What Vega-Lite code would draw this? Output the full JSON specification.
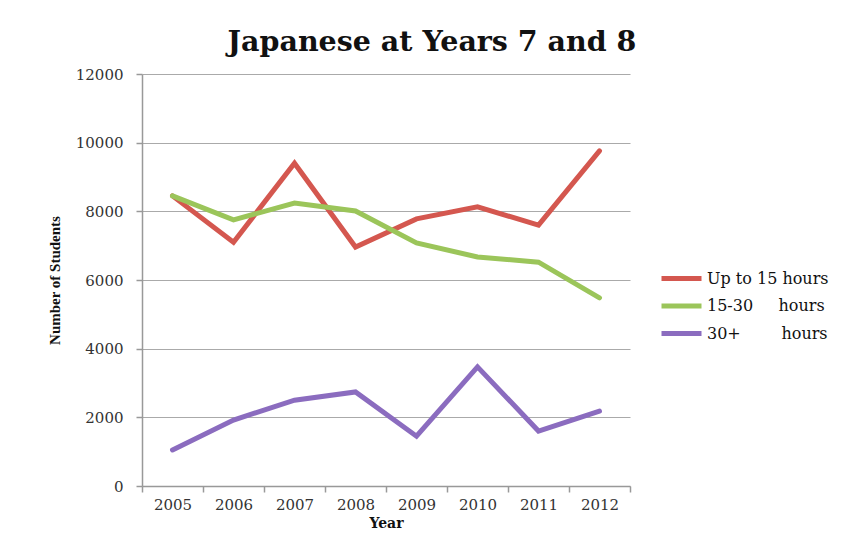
{
  "$schema": "https://vega.github.io/schema/vega-lite/v6.json",
  "autosize": {"type": "none"},
  "width": 488,
  "height": 412,
  "padding": {"left": 142, "top": 74, "right": 219, "bottom": 58},
  "background": "white",
  "title": {
    "text": "Japanese at Years 7 and 8",
    "font": "DejaVu Serif",
    "fontSize": 28.5,
    "fontWeight": "bold",
    "color": "#111111",
    "anchor": "middle",
    "dx": 46,
    "offset": 11
  },
  "data": {
    "values": [
      {"year": "2005", "series": "Up to 15 hours", "students": 8450},
      {"year": "2006", "series": "Up to 15 hours", "students": 7100},
      {"year": "2007", "series": "Up to 15 hours", "students": 9400},
      {"year": "2008", "series": "Up to 15 hours", "students": 6960},
      {"year": "2009", "series": "Up to 15 hours", "students": 7780},
      {"year": "2010", "series": "Up to 15 hours", "students": 8130},
      {"year": "2011", "series": "Up to 15 hours", "students": 7600},
      {"year": "2012", "series": "Up to 15 hours", "students": 9760},
      {"year": "2005", "series": "15-30 hours", "students": 8450},
      {"year": "2006", "series": "15-30 hours", "students": 7750},
      {"year": "2007", "series": "15-30 hours", "students": 8240},
      {"year": "2008", "series": "15-30 hours", "students": 8010},
      {"year": "2009", "series": "15-30 hours", "students": 7080},
      {"year": "2010", "series": "15-30 hours", "students": 6670},
      {"year": "2011", "series": "15-30 hours", "students": 6520},
      {"year": "2012", "series": "15-30 hours", "students": 5480},
      {"year": "2005", "series": "30+ hours", "students": 1050},
      {"year": "2006", "series": "30+ hours", "students": 1920},
      {"year": "2007", "series": "30+ hours", "students": 2500},
      {"year": "2008", "series": "30+ hours", "students": 2740},
      {"year": "2009", "series": "30+ hours", "students": 1450},
      {"year": "2010", "series": "30+ hours", "students": 3470},
      {"year": "2011", "series": "30+ hours", "students": 1600},
      {"year": "2012", "series": "30+ hours", "students": 2180}
    ]
  },
  "mark": {"type": "line", "strokeWidth": 5, "strokeJoin": "miter", "strokeCap": "round"},
  "encoding": {
    "x": {
      "field": "year",
      "type": "ordinal",
      "scale": {"paddingInner": 0, "paddingOuter": 0},
      "axis": {
        "title": "Year",
        "labelAngle": 0,
        "tickBand": "extent",
        "tickSize": 6,
        "labelPadding": 5,
        "titlePadding": 4,
        "titleFont": "DejaVu Serif",
        "titleFontSize": 14,
        "grid": false
      }
    },
    "y": {
      "field": "students",
      "type": "quantitative",
      "scale": {"domain": [0, 12000], "nice": false},
      "axis": {
        "title": "Number of Students",
        "values": [0, 2000, 4000, 6000, 8000, 10000, 12000],
        "format": "d",
        "tickSize": 6,
        "labelPadding": 13,
        "titlePadding": 13,
        "titleFont": "Liberation Serif",
        "titleFontSize": 15,
        "grid": true
      }
    },
    "color": {
      "field": "series",
      "type": "nominal",
      "scale": {
        "domain": ["Up to 15 hours", "15-30 hours", "30+ hours"],
        "range": ["#d4574f", "#9bc55a", "#8b6cbf"]
      },
      "legend": {
        "title": null,
        "orient": "none",
        "legendX": 527,
        "legendY": 192,
        "symbolType": "M-2,0H2",
        "symbolSize": 400,
        "symbolStrokeWidth": 5,
        "symbolFillColor": "transparent",
        "rowPadding": 4.5,
        "labelOffset": 13,
        "labelFont": "DejaVu Serif",
        "labelFontSize": 16,
        "labelColor": "#111111",
        "labelExpr": "datum.label == '15-30 hours' ? '\u00a015-30\u00a0\u00a0\u00a0\u00a0\u00a0hours' : datum.label == '30+ hours' ? '\u00a0\u00a030+\u00a0\u00a0\u00a0\u00a0\u00a0\u00a0\u00a0\u00a0hours' : datum.label"
      }
    }
  },
  "config": {
    "view": {"stroke": null},
    "axis": {
      "domainColor": "#999999",
      "domainWidth": 1.5,
      "tickColor": "#999999",
      "tickWidth": 1.5,
      "gridColor": "#aaaaaa",
      "gridWidth": 1.2,
      "labelFont": "DejaVu Serif",
      "labelFontSize": 15,
      "labelColor": "#333333",
      "titleFontWeight": "bold",
      "titleColor": "#111111"
    }
  }
}
